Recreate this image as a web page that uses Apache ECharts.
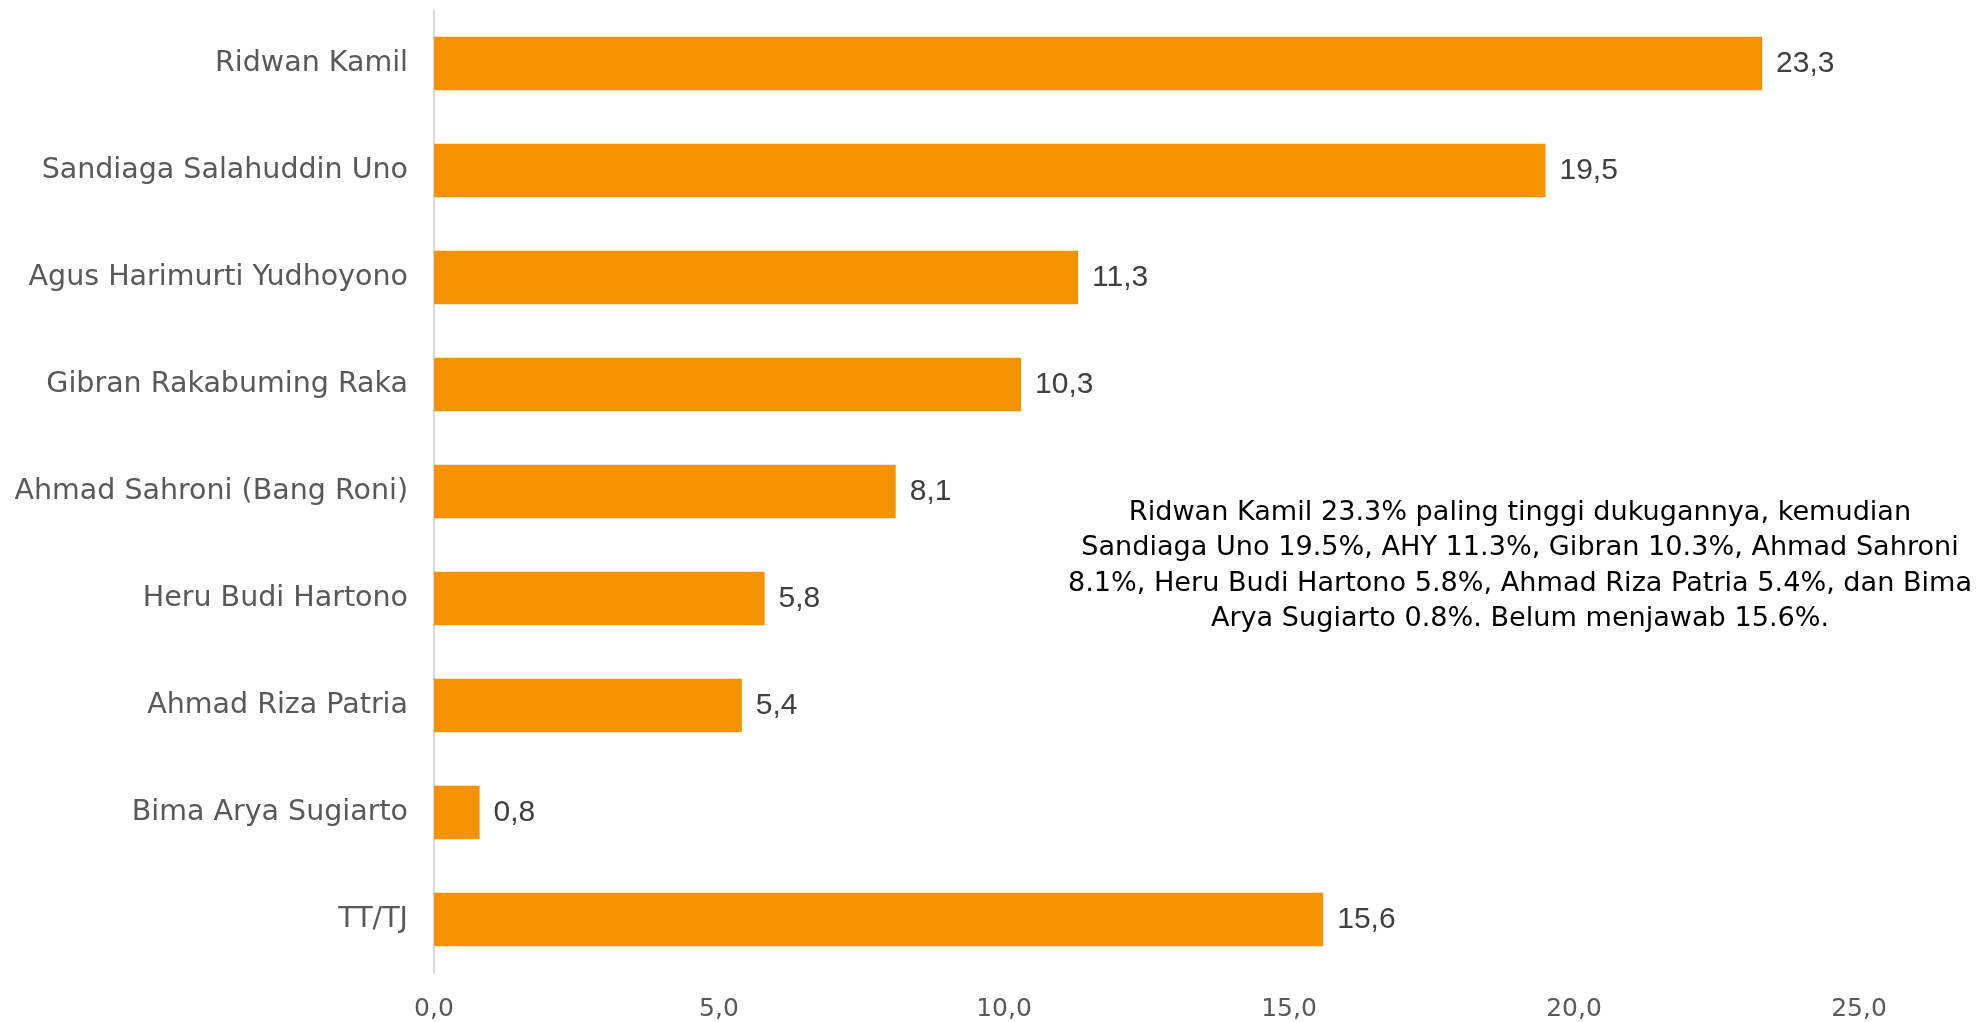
<!DOCTYPE html>
<html>
<head>
<meta charset="utf-8">
<script src="https://cdn.jsdelivr.net/npm/echarts@6/dist/echarts.min.js"></script>
<style>html,body{margin:0;padding:0;background:#fff;}#c{width:1980px;height:1022px;}</style>
</head>
<body>
<div id="c"></div>
<script>
var categories = ["Ridwan Kamil","Sandiaga Salahuddin Uno","Agus Harimurti Yudhoyono","Gibran Rakabuming Raka","Ahmad Sahroni (Bang Roni)","Heru Budi Hartono","Ahmad Riza Patria","Bima Arya Sugiarto","TT/TJ"];
var values = [23.3,19.5,11.3,10.3,8.1,5.8,5.4,0.8,15.6];
var noteLines = ["Ridwan Kamil 23.3% paling tinggi dukugannya, kemudian","Sandiaga Uno 19.5%, AHY 11.3%, Gibran 10.3%, Ahmad Sahroni","8.1%, Heru Budi Hartono 5.8%, Ahmad Riza Patria 5.4%, dan Bima","Arya Sugiarto 0.8%. Belum menjawab 15.6%."];

var fmt = function(v){ return Number(v).toFixed(1).replace('.', ','); };
var chart = echarts.init(document.getElementById('c'));
chart.setOption({
  animation: false,
  grid: {left: 434, right: 121, top: 10, bottom: 48, containLabel: false},
  xAxis: {
    type: 'value', min: 0, max: 25, interval: 5,
    axisLine: {show: false}, axisTick: {show: false}, splitLine: {show: false},
    axisLabel: {formatter: fmt, color: '#595959', fontSize: 25, fontFamily: 'DejaVu Sans', margin: 24}
  },
  yAxis: {
    type: 'category', data: categories, inverse: true,
    axisLine: {show: true, lineStyle: {color: '#d9d9d9', width: 2}},
    axisTick: {show: false},
    axisLabel: {color: '#595959', fontSize: 28.5, fontFamily: 'DejaVu Sans', margin: 26}
  },
  series: [{
    type: 'bar', data: values, barWidth: '50%',
    itemStyle: {color: '#F59200'},
    label: {show: true, position: 'right', distance: 14, formatter: function(p){return fmt(p.value);}, color: '#404040', fontSize: 30, fontFamily: 'Liberation Sans'}
  }],
  graphic: [{
    type: 'text', x: 1520, y: 495,
    style: {
      text: noteLines.join('\n'), textAlign: 'center', textVerticalAlign: 'top',
      fill: '#000', fontSize: 27.1, lineHeight: 35.5, fontFamily: 'DejaVu Sans'
    }
  }]
});
</script>
</body>
</html>
